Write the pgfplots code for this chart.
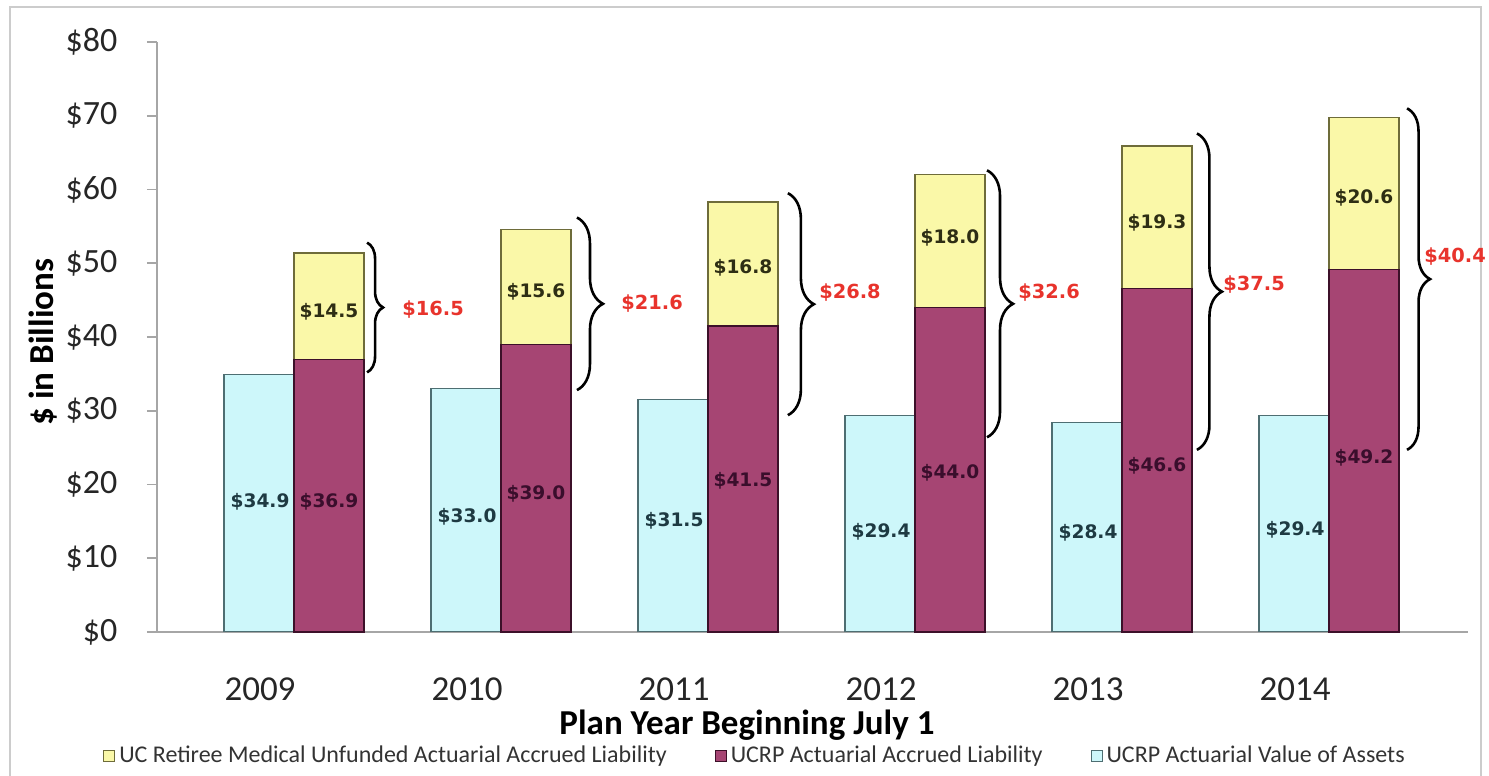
\documentclass[border=0pt]{standalone}
\usepackage{fontspec}
\setmainfont{Carlito}
\newfontfamily\lblfont{DejaVu Sans}
\usepackage{pgfplots}
\usepackage{pgfplotstable}
\pgfplotsset{compat=1.18}
\usetikzlibrary{decorations.pathreplacing}

\definecolor{cyanfill}{HTML}{CDF7FA}
\definecolor{cyanedge}{HTML}{4E6E72}
\definecolor{maroonfill}{HTML}{A64573}
\definecolor{maroonedge}{HTML}{3C1029}
\definecolor{yelfill}{HTML}{FAF8A8}
\definecolor{yeledge}{HTML}{6E6C3A}
\definecolor{redlbl}{HTML}{E8332C}
\definecolor{axisgray}{HTML}{A6A6A6}
\definecolor{cyanlbl}{HTML}{1E3A42}
\definecolor{maroonlbl}{HTML}{3A0E2C}
\definecolor{yellbl}{HTML}{2E2E14}

\pgfplotstableread{
x assets liab med
0 34.9 36.9 14.5
1 33.0 39.0 15.6
2 31.5 41.5 16.8
3 29.4 44.0 18.0
4 28.4 46.6 19.3
5 29.4 49.2 20.6
}\datatable

\pgfplotsset{mybase/.style={
  scale only axis, width=655.5pt, height=295pt,
  xmin=-0.6618, xmax=5.6715, ymin=0, ymax=80,
  at={(0,0)}, anchor=south west,
}}

\newcommand{\dlab}{\lblfont\bfseries\fontsize{9.3}{11}\selectfont}
\newcommand{\rlab}{\lblfont\bfseries\fontsize{9.7}{11}\selectfont}

\begin{document}
\begin{tikzpicture}
\useasboundingbox (-78.5pt,-72pt) rectangle (666pt,316pt);
\draw[gray!40, line width=0.75pt] (-73.5pt,-75pt) rectangle (662pt,312.5pt);

\begin{axis}[mybase,
  axis x line*=bottom, axis y line*=left,
  axis line style={draw=axisgray, line width=0.8pt, -},
  ytick={0,10,...,80},
  yticklabel={\$\pgfmathprintnumber{\tick}},
  /pgf/number format/assume math mode=true,
  yticklabel style={font=\fontsize{17}{20}\selectfont, text=black!85, anchor=east, xshift=-11.3pt},
  ytick style={draw=axisgray, line width=0.8pt},
  tick align=outside, major tick length=5pt,
  xtick={0,...,5}, xticklabels={2009,2010,2011,2012,2013,2014},
  xtick style={draw=none},
  xticklabel style={font=\fontsize{17.5}{20}\selectfont, text=black!85, anchor=center, xshift=-17pt, yshift=-23.5pt},
  xlabel={Plan Year Beginning July 1},
  xlabel style={font=\bfseries\fontsize{17.5}{20}\selectfont, at={(axis description cs:0.45,-0.1576)}, anchor=center},
  ylabel={\$ in Billions},
  ylabel style={font=\bfseries\fontsize{17.5}{20}\selectfont, at={(axis description cs:-0.087,0.4915)}, anchor=center},
  legend columns=3,
  legend style={draw=none, fill=none, at={(0.4569,-0.2102)}, anchor=center,
    font=\fontsize{12}{14}\selectfont, text=black!80,
    /tikz/every even column/.append style={column sep=22pt}},
]
\addlegendimage{legend image code/.code={\draw[fill=yelfill, draw=yeledge, line width=0.5pt] (0pt,-2.75pt) rectangle (5.5pt,2.75pt);}}
\addlegendentry{UC Retiree Medical Unfunded Actuarial Accrued Liability}
\addlegendimage{legend image code/.code={\draw[fill=maroonfill, draw=maroonedge, line width=0.5pt] (0pt,-2.75pt) rectangle (5.5pt,2.75pt);}}
\addlegendentry{UCRP Actuarial Accrued Liability}
\addlegendimage{legend image code/.code={\draw[fill=cyanfill, draw=cyanedge, line width=0.5pt] (0pt,-2.75pt) rectangle (5.5pt,2.75pt);}}
\addlegendentry{UCRP Actuarial Value of Assets}
\addplot[ybar, bar width=35pt, bar shift=-17.5pt, fill=cyanfill, draw=cyanedge, line width=0.6pt, forget plot] table[x=x,y=assets]{\datatable};
\end{axis}

\begin{axis}[mybase, hide axis, clip=false,
  ybar stacked, bar width=35pt, bar shift=17.5pt]
\addplot[fill=maroonfill, draw=maroonedge, line width=0.6pt] table[x=x,y=liab]{\datatable};
\addplot[fill=yelfill, draw=yeledge, line width=0.6pt] table[x=x,y=med]{\datatable};
\end{axis}

\begin{axis}[mybase, hide axis, clip=false]
% data labels
\node[text=cyanlbl, font=\dlab] at (axis cs:-0.164,17.6) {\$34.9};
\node[text=cyanlbl, font=\dlab] at (axis cs:0.836,15.6) {\$33.0};
\node[text=cyanlbl, font=\dlab] at (axis cs:1.836,15.1) {\$31.5};
\node[text=cyanlbl, font=\dlab] at (axis cs:2.836,13.6) {\$29.4};
\node[text=cyanlbl, font=\dlab] at (axis cs:3.836,13.4) {\$28.4};
\node[text=cyanlbl, font=\dlab] at (axis cs:4.836,13.9) {\$29.4};

\node[text=maroonlbl, font=\dlab] at (axis cs:0.169,17.6) {\$36.9};
\node[text=maroonlbl, font=\dlab] at (axis cs:1.169,18.8) {\$39.0};
\node[text=maroonlbl, font=\dlab] at (axis cs:2.169,20.5) {\$41.5};
\node[text=maroonlbl, font=\dlab] at (axis cs:3.169,21.6) {\$44.0};
\node[text=maroonlbl, font=\dlab] at (axis cs:4.169,22.6) {\$46.6};
\node[text=maroonlbl, font=\dlab] at (axis cs:5.169,23.6) {\$49.2};

\node[text=yellbl, font=\dlab] at (axis cs:0.169,43.4) {\$14.5};
\node[text=yellbl, font=\dlab] at (axis cs:1.169,46.1) {\$15.6};
\node[text=yellbl, font=\dlab] at (axis cs:2.169,49.4) {\$16.8};
\node[text=yellbl, font=\dlab] at (axis cs:3.169,53.4) {\$18.0};
\node[text=yellbl, font=\dlab] at (axis cs:4.169,55.5) {\$19.3};
\node[text=yellbl, font=\dlab] at (axis cs:5.169,58.9) {\$20.6};

% braces
\draw[decorate, decoration={brace, amplitude=8pt}, line width=1.3pt] (axis cs:0.353,52.8) -- (axis cs:0.353,35.2);
\draw[decorate, decoration={brace, amplitude=13pt}, line width=1.3pt] (axis cs:1.367,56.2) -- (axis cs:1.367,32.8);
\draw[decorate, decoration={brace, amplitude=13pt}, line width=1.3pt] (axis cs:2.386,59.5) -- (axis cs:2.386,29.4);
\draw[decorate, decoration={brace, amplitude=13pt}, line width=1.3pt] (axis cs:3.348,62.6) -- (axis cs:3.348,26.4);
\draw[decorate, decoration={brace, amplitude=12.5pt}, line width=1.3pt] (axis cs:4.362,67.6) -- (axis cs:4.362,24.7);
\draw[decorate, decoration={brace, amplitude=11.5pt}, line width=1.3pt] (axis cs:5.377,71.0) -- (axis cs:5.377,24.7);

% red totals
\node[text=redlbl, font=\rlab, anchor=west, inner sep=0pt] at (axis cs:0.522,43.7) {\$16.5};
\node[text=redlbl, font=\rlab, anchor=west, inner sep=0pt] at (axis cs:1.580,44.5) {\$21.6};
\node[text=redlbl, font=\rlab, anchor=west, inner sep=0pt] at (axis cs:2.536,46.0) {\$26.8};
\node[text=redlbl, font=\rlab, anchor=west, inner sep=0pt] at (axis cs:3.498,46.0) {\$32.6};
\node[text=redlbl, font=\rlab, anchor=west, inner sep=0pt] at (axis cs:4.488,47.1) {\$37.5};
\node[text=redlbl, font=\rlab, anchor=west, inner sep=0pt] at (axis cs:5.459,50.9) {\$40.4};
\end{axis}
\end{tikzpicture}
\end{document}
